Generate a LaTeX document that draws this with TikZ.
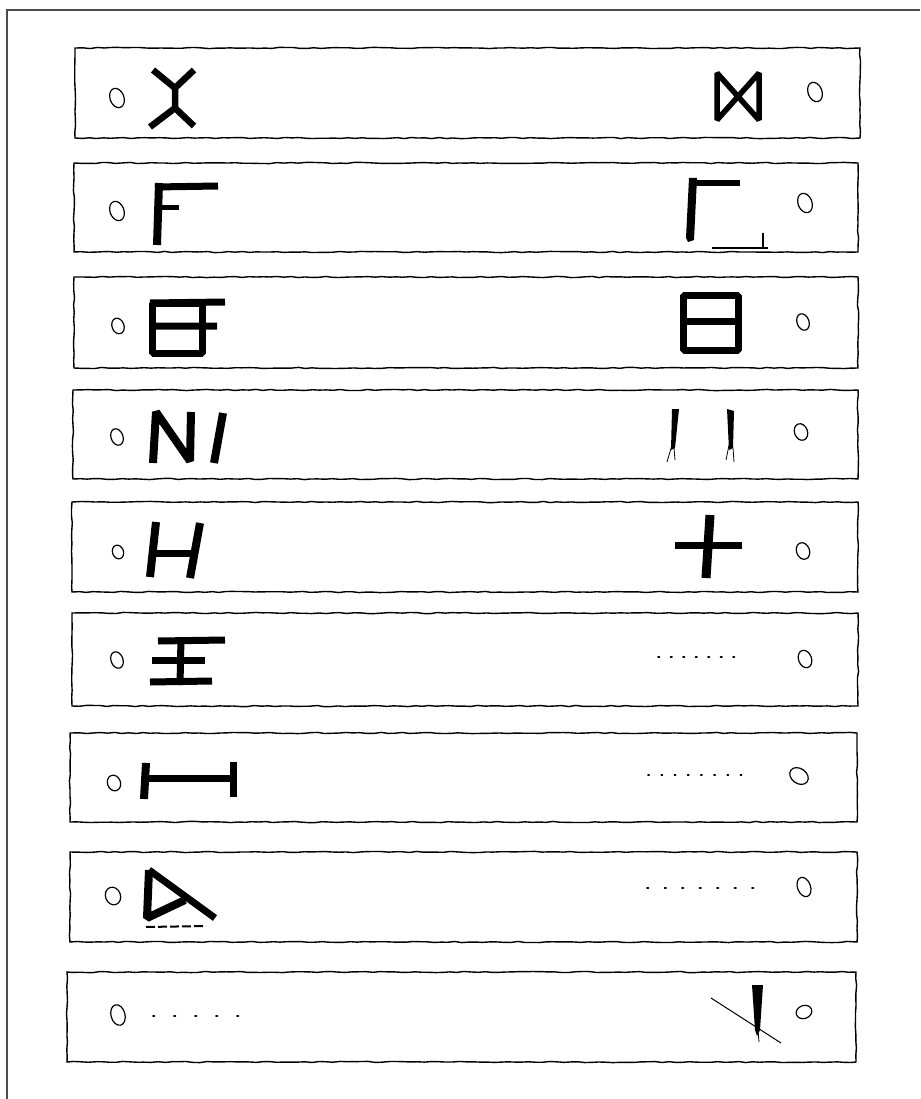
\documentclass[tikz,border=0pt]{standalone}
\usepackage{amsmath}
\usepackage{amssymb}
\usetikzlibrary{shapes.geometric,decorations.pathmorphing}

\tikzset{
  frame/.style={line width=1.3pt, black!70},
  strip/.style={line width=1.4pt, decorate,
    decoration={random steps, segment length=7pt, amplitude=0.6pt}},
  hole/.style={draw, ellipse, line width=1.2pt, inner sep=0pt,
    minimum width=14pt, minimum height=20pt, rotate=20},
  rune/.style={line width=7pt, line join=bevel},
  dots/.style={line width=1.6pt, line cap=round, dash pattern=on 1.5pt off 11pt},
}

\begin{document}
\begin{tikzpicture}[x=1pt,y=-1pt]
\pgfmathsetseed{11}
\useasboundingbox (0,0) rectangle (920,1099);
\draw[frame] (7,1099) -- (7,10) -- (920,10);
%\draw[help lines] (0,0) grid[step=100] (920,1099);

% strips
\draw[strip] (75,48) rectangle (860,138);
\draw[strip] (74,163) rectangle (858,252);
\draw[strip] (74,277) rectangle (858,368);
\draw[strip] (73,390) rectangle (858,479);
\draw[strip] (72,502) rectangle (858,592);
\draw[strip] (72,613) rectangle (858,706);
\draw[strip] (70,733) rectangle (857,822);
\draw[strip] (70,852) rectangle (857,942);
\draw[strip] (67,972) rectangle (856,1062);

% holes
\path
(117,98) node[hole] (l1) {}
(815,92) node[hole] (r1) {}
(117,211) node[hole] (l2) {}
(805,203) node[hole] (r2) {}
(118,326) node[hole, minimum width=12pt, minimum height=16pt] (l3) {}
(803,322) node[hole, minimum width=12pt, minimum height=17pt] (r3) {}
(117,437) node[hole, minimum width=12pt, minimum height=17pt] (l4) {}
(801,432) node[hole, minimum width=13pt, minimum height=17pt] (r4) {}
(118,552) node[hole, minimum width=11pt, minimum height=14pt] (l5) {}
(803,551) node[hole, minimum width=13pt, minimum height=17pt] (r5) {}
(117,660) node[hole, minimum width=12pt, minimum height=17pt] (l6) {}
(805,659) node[hole, minimum width=13pt, minimum height=18pt] (r6) {}
(114,783) node[hole, minimum width=13pt, minimum height=16pt] (l7) {}
(799,776) node[hole, minimum width=15pt, minimum height=20pt, rotate=35] (r7) {}
(113,896) node[hole, minimum width=15pt, minimum height=18pt] (l8) {}
(804,887) node[hole, minimum width=13pt, minimum height=20pt] (r8) {}
(118,1015) node[hole, minimum width=14pt, minimum height=21pt, rotate=-5] (l9) {}
(804,1012) node[hole, minimum width=16pt, minimum height=13pt, rotate=0] (r9) {};

% row 1
\draw[rune, line width=6.5pt] (153,70) -- (175,88) -- (194,70)
  (175,88) -- (175,108)
  (150,127) -- (175,108) -- (194,126);
\draw[rune, line width=5.5pt] (717,73) -- (717,120) -- (759,73) -- (759,120) -- cycle;

% row 2
\draw[rune, line width=8pt] (159,183) -- (157,245);
\draw[rune] (155,187) -- (218,186);
\draw[rune, line width=5pt] (159,208) -- (179,208);
\fill (689,178) -- (697,178) -- (694,240) -- (688,242) -- (686,238) -- cycle;
\draw[rune, line width=6pt] (690,183) -- (740,183);
\draw[line width=2.5pt] (712,248) -- (768,248) (763,233) -- (763,248);

% row 3
\draw[rune] (152,303) rectangle (202,353);
\draw[rune] (150,303) -- (225,302) (152,326) -- (217,326);
\draw[rune] (683,295) rectangle (738,350) (683,321) -- (738,321);

% row 4
\draw[rune, line width=8pt] (153,463) -- (156,412) -- (190,461) -- (191,412);
\draw[rune, line width=8pt] (223,413) -- (214,463);
\fill (672,409) -- (679,409) -- (675,448) -- (671,450) -- cycle;
\draw[line width=0.8pt] (672,445) -- (667,462) (674,448) -- (675,460);
\fill (727,409) -- (734,411) -- (733,448) -- (729,450) -- cycle;
\draw[line width=0.8pt] (729,445) -- (726,460) (733,448) -- (734,462);

% row 5
\draw[rune, line width=8pt] (156,522) -- (150,577) (200,523) -- (190,578);
\draw[rune] (150,553) -- (196,553);
\draw[rune] (675,545) -- (742,545);
\draw[rune, line width=9pt] (710,515) -- (706,578);

% row 6
\draw[rune] (158,641) -- (225,640);
\draw[rune] (152,660) -- (205,660);
\draw[rune] (150,682) -- (212,681);
\draw[rune] (181,638) -- (180,685);
\draw[dots] (658,657) -- (742,657);

% row 7
\draw[rune, line width=8pt] (146,763) -- (144,799);
\draw[rune] (233,762) -- (233,797);
\draw[rune] (146,778) -- (233,778);
\draw[dots, dash pattern=on 1.2pt off 12pt] (648,775) -- (745,775);

% row 8
\draw[rune, line width=8pt] (149,870) -- (147,918) -- (185,900);
\draw[rune] (149,870) -- (215,918);
\draw[line width=2pt, dash pattern=on 9pt off 3pt] (146,927) -- (206,926);
\draw[dots, dash pattern=on 1.5pt off 16pt] (647,888) -- (755,888);

% row 9
\draw[dots, dash pattern=on 1.5pt off 19.5pt] (153,1016) -- (240,1016);
\fill (752,985) -- (763,985) -- (760,1030) -- (757,1036) -- (755,1030) -- cycle;
\draw[line width=0.8pt] (758,1030) -- (759,1042);
\draw[line width=1pt] (711,998) -- (781,1043);
\end{tikzpicture}
\end{document}
